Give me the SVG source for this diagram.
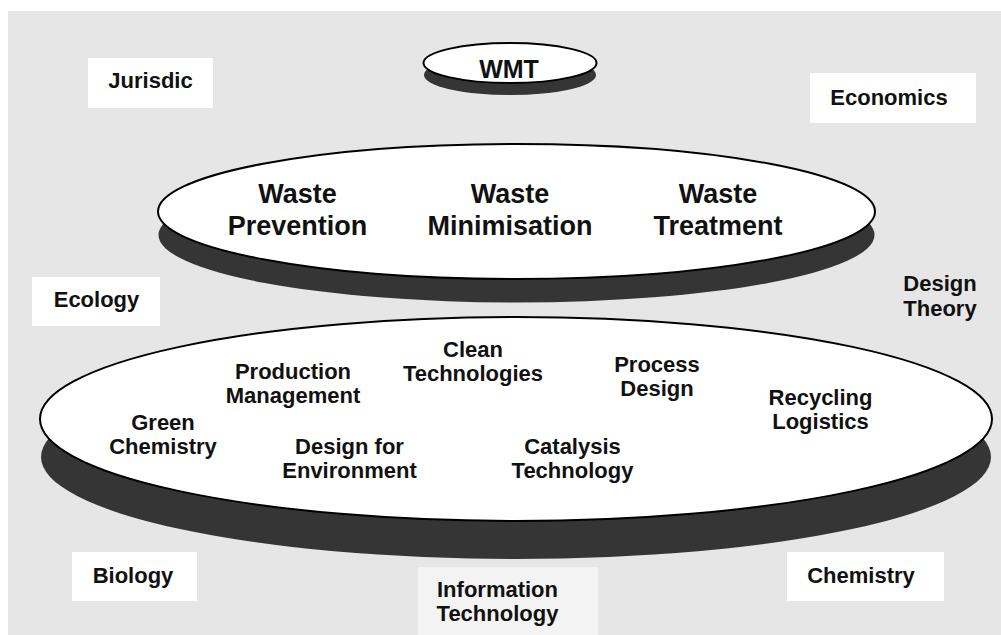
<svg xmlns="http://www.w3.org/2000/svg" width="1001" height="635" viewBox="0 0 1001 635">
<style>
text{font-family:"Liberation Sans",Arial,sans-serif;font-weight:bold;fill:#111;text-anchor:middle}
.s{font-size:22px}
.l{font-size:27px}
.box{fill:#fff}
.shadow{fill:#353535}
.top{fill:#fff;stroke:#000;stroke-width:2}
</style>
<rect x="0" y="0" width="1001" height="635" fill="#fff"/>
<rect x="8" y="11" width="993" height="624" fill="#e6e6e6"/>
<g id="jurisdic"><rect class="box" x="88" y="58" width="125" height="50"/><text class="s" x="150.5" y="88">Jurisdic</text></g>
<g id="economics"><rect class="box" x="810" y="73" width="166" height="50"/><text class="s" x="889" y="105">Economics</text></g>
<g id="ecology"><rect class="box" x="32" y="277" width="128" height="49"/><text class="s" x="96.5" y="307">Ecology</text></g>
<g id="design-theory"><text class="s" x="940" y="291">Design</text><text class="s" x="940" y="316">Theory</text></g>
<g id="biology"><rect class="box" x="72" y="552" width="125" height="49"/><text class="s" x="133" y="583">Biology</text></g>
<g id="chemistry"><rect class="box" x="787" y="552" width="157" height="49"/><text class="s" x="861" y="583">Chemistry</text></g>
<g id="information-technology"><rect x="418" y="567" width="180" height="68" fill="#f3f3f3"/><text class="s" x="497.5" y="597">Information</text><text class="s" x="497.5" y="621">Technology</text></g>
<g id="wmt">
<ellipse class="shadow" cx="510" cy="75" rx="86" ry="20"/>
<ellipse class="top" cx="510" cy="63" rx="86.5" ry="20"/>
<text x="509" y="78" style="font-size:25px">WMT</text>
</g>
<g id="waste-layer">
<ellipse class="shadow" cx="516.5" cy="235" rx="358" ry="67.5"/>
<ellipse class="top" cx="516.5" cy="211.5" rx="358.5" ry="67.5"/>
<text class="l" x="297.5" y="203">Waste</text><text class="l" x="297.5" y="235">Prevention</text>
<text class="l" x="510" y="203">Waste</text><text class="l" x="510" y="235">Minimisation</text>
<text class="l" x="718" y="203">Waste</text><text class="l" x="718" y="235">Treatment</text>
</g>
<g id="method-layer">
<ellipse class="shadow" cx="516" cy="457" rx="475" ry="102"/>
<ellipse class="top" cx="516" cy="419" rx="476" ry="102"/>
<text class="s" x="473" y="357">Clean</text><text class="s" x="473" y="381">Technologies</text>
<text class="s" x="293" y="379">Production</text><text class="s" x="293" y="403">Management</text>
<text class="s" x="657" y="372">Process</text><text class="s" x="657" y="396">Design</text>
<text class="s" x="820.5" y="405">Recycling</text><text class="s" x="820.5" y="429">Logistics</text>
<text class="s" x="163" y="430">Green</text><text class="s" x="163" y="454">Chemistry</text>
<text class="s" x="349.5" y="454">Design for</text><text class="s" x="349.5" y="478">Environment</text>
<text class="s" x="572.5" y="454">Catalysis</text><text class="s" x="572.5" y="478">Technology</text>
</g>
<g id="connectors"/>
</svg>
